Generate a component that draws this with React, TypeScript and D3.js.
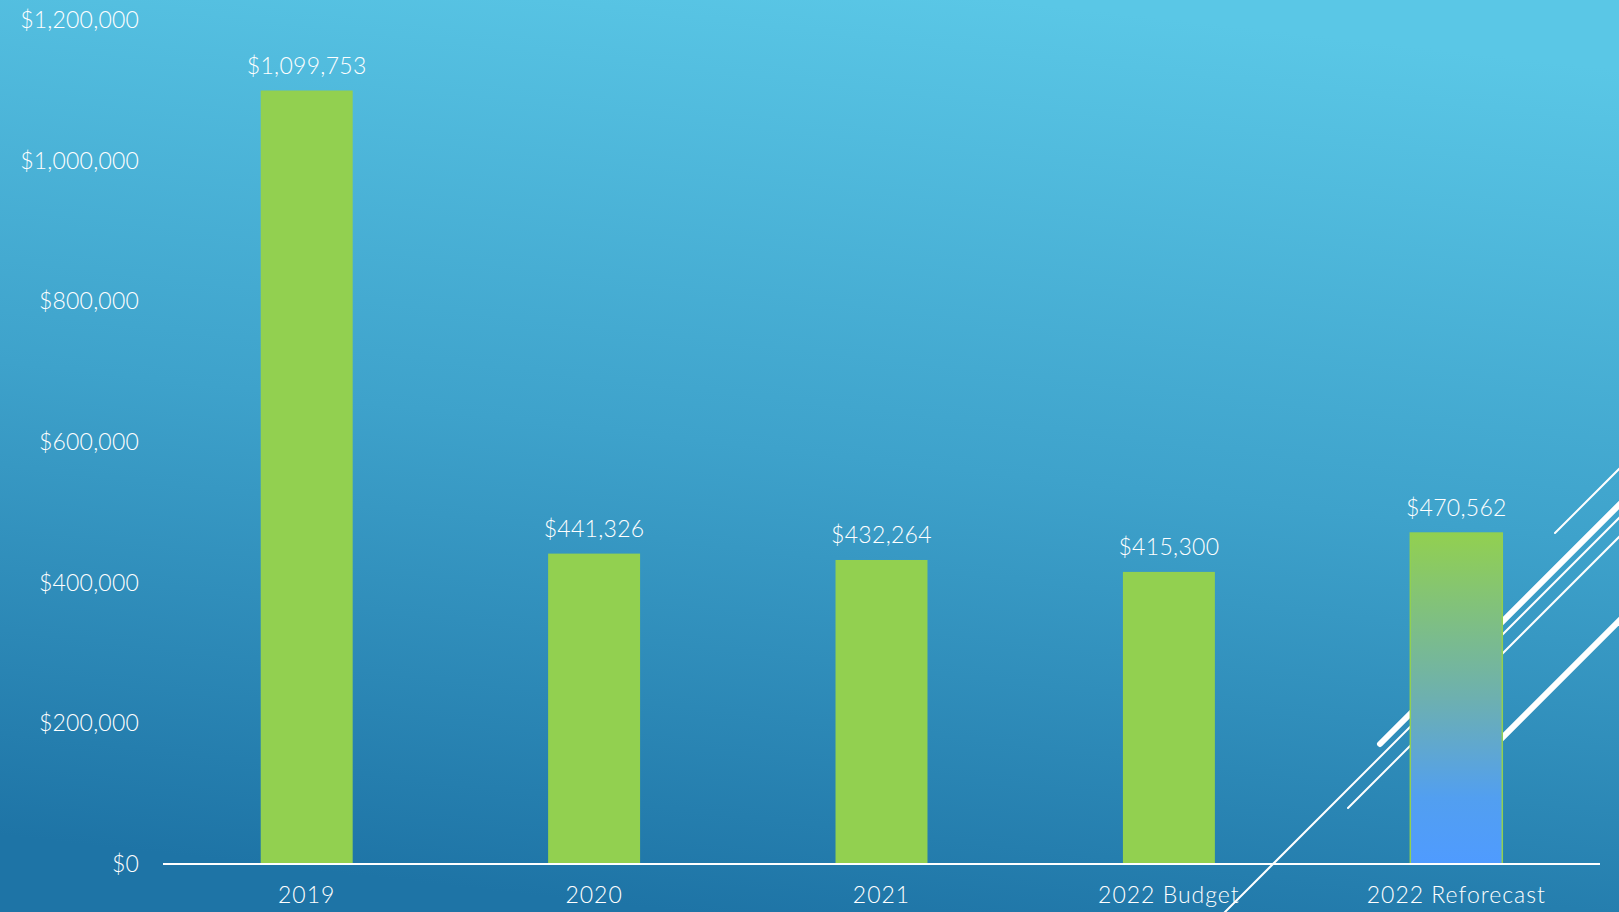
import React from "react";
import * as d3 from "d3";

const categories = ["2019", "2020", "2021", "2022 Budget", "2022 Reforecast"];
const values = [1099753, 441326, 432264, 415300, 470562];
const yTicks = [0, 200000, 400000, 600000, 800000, 1000000, 1200000];

const W = 1619;
const H = 912;
const margin = { left: 163, right: 19, top: 20, bottom: 48 };

export default function App() {
  const x = d3
    .scaleBand<string>()
    .domain(categories)
    .range([margin.left, W - margin.right])
    .paddingInner(0.68)
    .paddingOuter(0.34);
  const y = d3
    .scaleLinear()
    .domain([0, 1200000])
    .range([H - margin.bottom, margin.top]);
  const fmt = (v: number) => "$" + d3.format(",")(v);
  const font = "Lato, 'Open Sans', sans-serif";

  // decorative diagonal lines (45°) in the lower right, behind bars
  const deco = [
    { x1: 1555, y1: 533, x2: 1660, y2: 428, w: 2 },
    { x1: 1380, y1: 744, x2: 1660, y2: 464, w: 6 },
    { x1: 1180, y1: 957, x2: 1660, y2: 477, w: 2 },
    { x1: 1348, y1: 808, x2: 1660, y2: 496, w: 2 },
    { x1: 1470, y1: 770, x2: 1660, y2: 580, w: 6 },
  ];

  return (
    <svg
      width={W}
      height={H}
      style={{ position: "absolute", left: 0, top: 0, display: "block" }}
    >
      <defs>
        <linearGradient id="bg" x1="0.62" y1="0" x2="0.42" y2="1">
          <stop offset="0" stopColor="#5AC7E6" />
          <stop offset="0.5" stopColor="#3EA2CB" />
          <stop offset="1" stopColor="#1E74A6" />
        </linearGradient>
        <linearGradient id="barGrad" x1="0" y1="0" x2="0" y2="1">
          <stop offset="0" stopColor="#92D050" />
          <stop offset="0.5" stopColor="#6DB0B0" />
          <stop offset="0.8" stopColor="#529FF0" />
          <stop offset="1" stopColor="#4F9BFF" />
        </linearGradient>
      </defs>
      <rect x={0} y={0} width={W} height={H} fill="url(#bg)" />
      {deco.map((d, i) => (
        <line
          key={i}
          x1={d.x1}
          y1={d.y1}
          x2={d.x2}
          y2={d.y2}
          stroke="#FFFFFF"
          strokeWidth={d.w}
          strokeLinecap="round"
        />
      ))}
      {yTicks.map((t) => (
        <text
          key={t}
          x={139}
          y={y(t)}
          dy="0.35em"
          textAnchor="end"
          fill="#FFFFFF"
          fontFamily={font}
          fontSize={23}
          fontWeight={300}
          letterSpacing={0.2}
        >
          {fmt(t)}
        </text>
      ))}
      {categories.map((c, i) => {
        const bx = x(c)!;
        const bw = x.bandwidth();
        const last = i === categories.length - 1;
        return (
          <g key={c}>
            <rect
              x={bx}
              y={y(values[i])}
              width={bw}
              height={y(0) - y(values[i])}
              fill={last ? "url(#barGrad)" : "#92D050"}
              stroke={last ? "#92D050" : "none"}
              strokeWidth={last ? 1.5 : 0}
            />
            <text
              x={bx + bw / 2}
              y={y(values[i]) - 25}
              dy="0.35em"
              textAnchor="middle"
              fill="#FFFFFF"
              fontFamily={font}
              fontSize={23}
              fontWeight={300}
              letterSpacing={0.3}
            >
              {fmt(values[i])}
            </text>
            <text
              x={bx + bw / 2}
              y={895}
              dy="0.35em"
              textAnchor="middle"
              fill="#FFFFFF"
              fontFamily={font}
              fontSize={23}
              fontWeight={300}
              letterSpacing={1}
            >
              {c}
            </text>
          </g>
        );
      })}
      <line
        x1={margin.left}
        x2={W - margin.right}
        y1={y(0)}
        y2={y(0)}
        stroke="#FFFFFF"
        strokeWidth={2}
      />
    </svg>
  );
}
